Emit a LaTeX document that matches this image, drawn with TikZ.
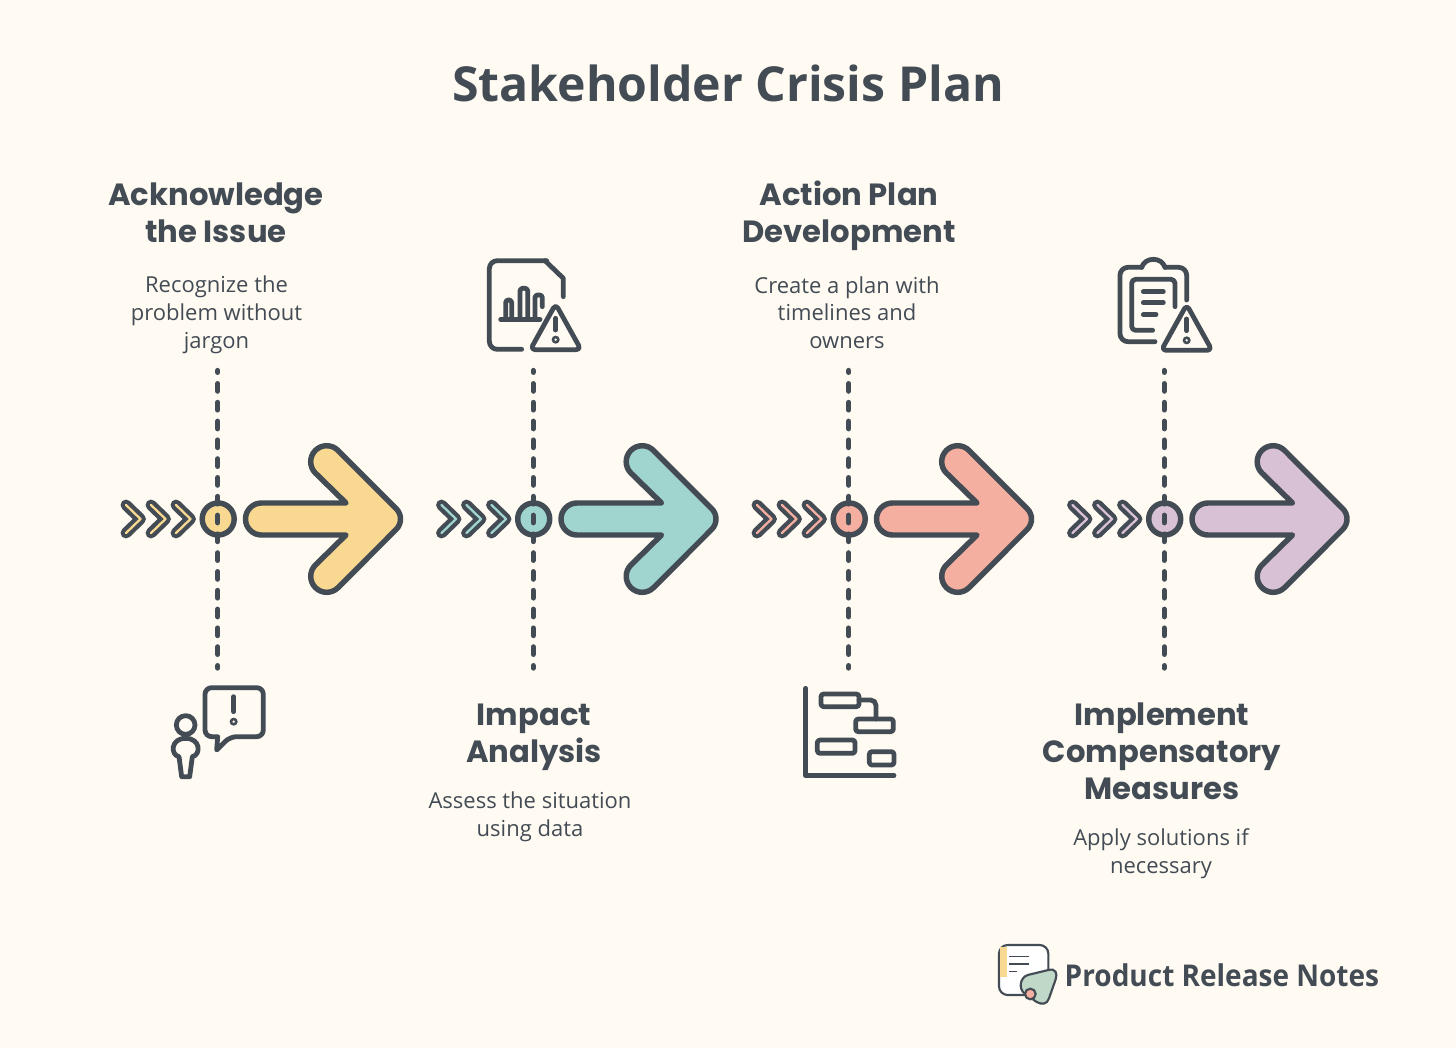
\documentclass[tikz,border=0pt]{standalone}
\usepackage{fontspec}
\setmainfont{Open Sans}
\newfontfamily\headfont{Poppins}
\newfontfamily\brandfont{Open Sans}[FakeStretch=0.933]
\definecolor{ink}{HTML}{434B54}
\definecolor{paper}{HTML}{FFFBF3}
\definecolor{cyellow}{HTML}{F9D992}
\definecolor{cteal}{HTML}{A0D5CF}
\definecolor{csalmon}{HTML}{F5AFA0}
\definecolor{clilac}{HTML}{D9C1D5}
\definecolor{cgreen}{HTML}{BFD8C8}
\tikzset{
  outline/.style={draw=ink,line width=4.1pt,line join=round},
  iconline/.style={draw=ink,line width=3.6pt,line cap=round,line join=round},
  dashline/.style={draw=ink,line width=4pt,line cap=round,dash pattern=on 5.6pt off 8.5pt},
  heading/.style={text=ink,align=center,font=\headfont\bfseries\fontsize{23}{27.75}\selectfont},
  body/.style={text=ink,align=center,font=\fontsize{16.5}{20.8}\selectfont},
}
\newcommand\stagegfx[3]{%
 \begin{scope}[shift={(#1,0)}]
  \coordinate (top#3) at (217.7,370.5);
  \coordinate (hub#3) at (217.7,519);
  \coordinate (bot#3) at (217.7,668);
  \foreach \d in {0,25,50}{
   \begin{scope}[shift={(\d,0)}]
    \draw[ink,line width=8.2pt,line cap=round,line join=round] (126,505) -- (140.5,519) -- (126,533);
    \draw[#2,line width=1.7pt,line cap=round,line join=round] (126,505) -- (140.5,519) -- (126,533);
   \end{scope}
  }
  \node[circle,minimum size=24pt,inner sep=0pt,fill=#2,outline] (c#3) at (218.2,519) {};
  \draw[dashline,dash phase=2.8pt] (hub#3) -- (top#3);
  \draw[dashline,dash phase=2.8pt] (hub#3) -- (bot#3);
  \path[fill=#2,outline] (346,503) -- (261.5,503) arc[start angle=270,end angle=90,radius=16]
    -- (346,535) -- (315.4,565) arc[start angle=225,end angle=45,radius=16]
    -- (396.2,529.4) arc[start angle=45,end angle=-45,radius=14.7]
    -- (338,450.4) arc[start angle=-45,end angle=-225,radius=16] -- cycle;
 \end{scope}}
\newcommand\warntri[2]{%
 \draw[iconline,rounded corners=3.5pt] (#1,#2-3) -- (#1+76,#2+134) -- (#1-76,#2+134) -- cycle;
 \draw[iconline] (#1,#2+40) -- (#1,#2+75);
 \draw[draw=ink,line width=1.9pt] (#1,#2+104) circle[radius=8];
}
\begin{document}
\begin{tikzpicture}[x=.75pt,y=.75pt,yscale=-1]
\useasboundingbox (0,0) rectangle (1456,1048);
\fill[paper] (0,0) rectangle (1456,1048);
\node[text=ink,font=\bfseries\fontsize{36.15}{40}\selectfont] (title) at (728,83) {Stakeholder Crisis Plan};

\stagegfx{0}{cyellow}{1}
\stagegfx{315.5}{cteal}{2}
\stagegfx{631}{csalmon}{3}
\stagegfx{946.5}{clilac}{4}

\node[heading] (h1) at (216,213) {Acknowledge\\the Issue};
\node[body] (b1) at (216.5,315) {Recognize the\\problem without\\jargon};
\node[heading] (h2) at (534,737) {Impact\\Analysis};
\node[body] (b2) at (530,816.5) {Assess the situation\\using data};
\node[heading] (h3) at (849,216) {Action Plan\\Development};
\node[body] (b3) at (847,312.5) {Create a plan with\\timelines and\\owners};
\node[heading] (h4) at (1162,751) {Implement\\Compensatory\\Measures};
\node[body] (b4) at (1161,853.5) {Apply solutions if\\necessary};

% document icon
\begin{scope}[shift={(470,250)},x=.25pt,y=.25pt]
 \draw[iconline,rounded corners=6pt] (155,298) -- (58,298) -- (58,32) -- (230,32);
 \draw[iconline] (225,32) -- (280,85) -- (280,140);
 \draw[iconline] (92,208) -- (210,208);
 \draw[iconline,rounded corners=2pt] (107,208) -- (107,150) -- (125,150) -- (125,208);
 \draw[iconline,rounded corners=2pt] (150,208) -- (150,115) -- (173,115) -- (173,208);
 \draw[iconline,rounded corners=2pt] (195,208) -- (195,135) -- (217,135) -- (217,170);
 \warntri{257}{165}
\end{scope}
% clipboard icon
\begin{scope}[shift={(1100,250)},x=.25pt,y=.25pt]
 \draw[iconline,rounded corners=6pt] (165,275) -- (60,275) -- (60,52) -- (125,52);
 \draw[iconline] (125,52) .. controls (135,20) and (185,20) .. (195,52);
 \draw[iconline,rounded corners=6pt] (195,52) -- (260,52) -- (260,150);
 \draw[iconline,rounded corners=3pt] (158,241) -- (95,241) -- (95,88) -- (225,88) -- (225,170);
 \draw[iconline] (130,125) -- (190,125);
 \draw[iconline] (130,158) -- (190,158);
 \draw[iconline] (130,194) -- (168,194);
 \warntri{260}{167}
\end{scope}
% person icon
\begin{scope}[shift={(155,675)},x=.25pt,y=.25pt]
 \draw[iconline] (188,185) [rounded corners=5pt] -- (150,185) -- (150,38) -- (325,38) -- (325,185) -- (225,185) [sharp corners] -- (185,225) -- cycle;
 \draw[iconline] (236,65) -- (236,110);
 \draw[draw=ink,line width=1.9pt] (236,140) circle[radius=8];
 \draw[iconline] (92,150) circle[radius=28];
 \draw[iconline] (80,305) -- (104,305) -- (112,245) .. controls (138,240) and (138,190) .. (92,190) .. controls (46,190) and (46,240) .. (72,245) -- cycle;
\end{scope}
% gantt icon
\begin{scope}[shift={(790,675)},x=.25pt,y=.25pt]
 \draw[iconline] (47,40) -- (47,302) -- (312,302);
 \draw[iconline,rounded corners=2pt] (93,57) rectangle (207,95);
 \draw[iconline,rounded corners=2pt] (197,132) rectangle (310,170);
 \draw[iconline,rounded corners=2pt] (82,195) rectangle (195,235);
 \draw[iconline,rounded corners=2pt] (238,230) rectangle (312,270);
 \draw[iconline,rounded corners=4pt] (207,75) -- (258,75) -- (258,132);
\end{scope}
% logo
\begin{scope}[shift={(985,930)},x=.25pt,y=.25pt]
 \draw[draw=ink,fill=white,line width=1.6pt,rounded corners=6.5pt] (42,45) rectangle (190,195);
 \fill[cyellow] (46,52) rectangle (65,140);
 \draw[ink,line width=1.2pt] (72,80) -- (132,80) (72,102) -- (132,102) (72,125) -- (97,125);
 \draw[draw=ink,fill=cgreen,line width=1.6pt] (128,135) -- (190,120) .. controls (212,114) and (218,130) .. (212,148) -- (192,205) .. controls (186,224) and (170,224) .. (155,216) -- (118,190) .. controls (100,175) and (105,143) .. (128,135) -- cycle;
 \draw[draw=ink,fill=csalmon,line width=1.6pt] (136,192) circle[radius=16];
\end{scope}
\node[text=ink,font=\brandfont\bfseries\fontsize{22.5}{26}\selectfont,anchor=west] (brand) at (1060,975) {Product Release Notes};
\end{tikzpicture}
\end{document}
